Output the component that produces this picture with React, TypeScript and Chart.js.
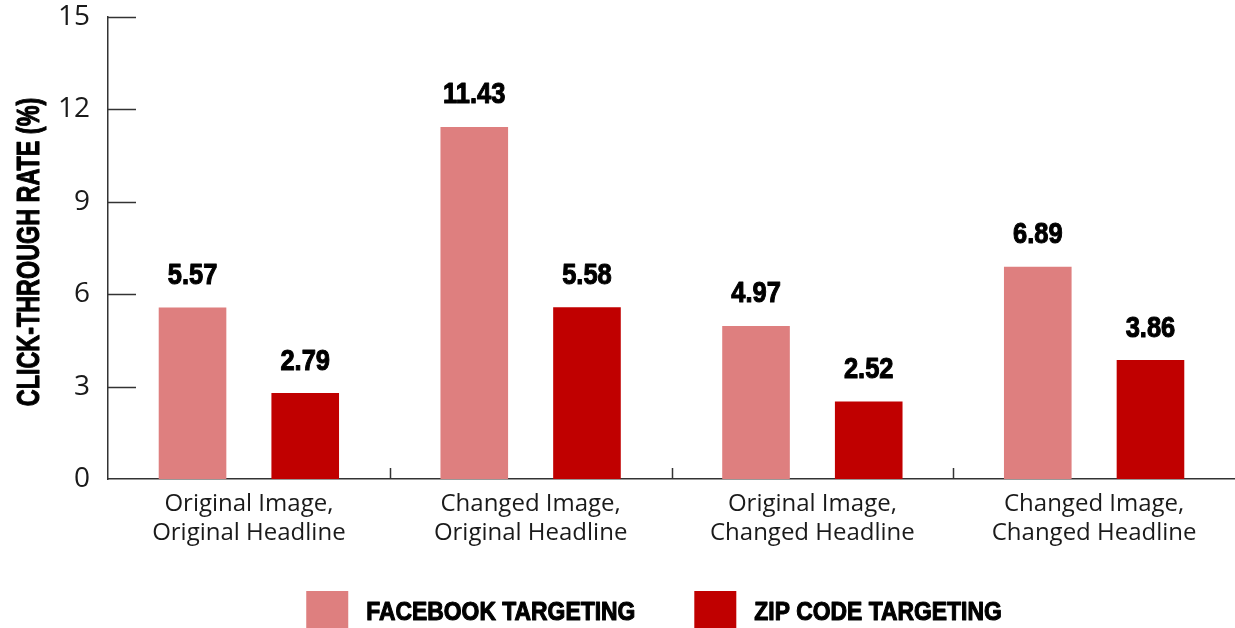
import React, { useEffect, useRef } from "react";
import { Chart, registerables } from "chart.js";

Chart.register(...registerables);

const categories: string[][] = [
  ["Original Image,", "Original Headline"],
  ["Changed Image,", "Original Headline"],
  ["Original Image,", "Changed Headline"],
  ["Changed Image,", "Changed Headline"],
];
const facebookTargeting = [5.57, 11.43, 4.97, 6.89];
const zipCodeTargeting = [2.79, 5.58, 2.52, 3.86];
const seriesNames = ["FACEBOOK TARGETING", "ZIP CODE TARGETING"];
const seriesColors = ["#DE7F7F", "#C00000"];
const yTickValues = [0, 3, 6, 9, 12, 15];
const yTitle = "CLICK-THROUGH RATE (%)";

const AXIS_COLOR = "#333333";
const CONDENSED = '"Liberation Sans", Arial, sans-serif';

function drawScaledText(
  ctx: CanvasRenderingContext2D,
  text: string,
  x: number,
  y: number,
  font: string,
  sx: number,
  align: CanvasTextAlign,
  rotate = 0
) {
  ctx.save();
  ctx.translate(x, y);
  if (rotate) ctx.rotate(rotate);
  ctx.scale(sx, 1);
  ctx.font = font;
  ctx.textAlign = align;
  ctx.textBaseline = "alphabetic";
  ctx.fillStyle = "#000000";
  ctx.strokeStyle = "#000000";
  ctx.lineWidth = 1.1;
  ctx.lineJoin = "round";
  ctx.fillText(text, 0, 0);
  ctx.strokeText(text, 0, 0);
  ctx.restore();
}

const customPlugin = {
  id: "customDecor",
  afterDraw(chart: any) {
    const ctx: CanvasRenderingContext2D = chart.ctx;
    const area = chart.chartArea;
    const xs = chart.scales.x;
    const ys = chart.scales.y;

    // inner y tick marks
    ctx.save();
    ctx.strokeStyle = AXIS_COLOR;
    ctx.lineWidth = 1.5;
    yTickValues.forEach((v) => {
      if (v === 0) return;
      const py = Math.round(ys.getPixelForValue(v)) + 0.5;
      ctx.beginPath();
      ctx.moveTo(area.left, py);
      ctx.lineTo(area.left + 28, py);
      ctx.stroke();
    });
    // x tick marks between categories
    for (let i = 0; i < categories.length - 1; i++) {
      const px = Math.round((xs.getPixelForValue(i) + xs.getPixelForValue(i + 1)) / 2) + 0.5;
      ctx.beginPath();
      ctx.moveTo(px, area.bottom);
      ctx.lineTo(px, area.bottom - 11);
      ctx.stroke();
    }
    ctx.restore();

    // data labels
    chart.data.datasets.forEach((ds: any, di: number) => {
      const meta = chart.getDatasetMeta(di);
      meta.data.forEach((el: any, i: number) => {
        const v = ds.data[i] as number;
        drawScaledText(ctx, v.toFixed(2), el.x, el.y - 23.5, `bold 30px ${CONDENSED}`, 0.85, "center");
      });
    });

    // y title
    const cy = (area.top + area.bottom) / 2 + 4;
    drawScaledText(ctx, yTitle, 39, cy, `bold 32px ${CONDENSED}`, 0.73, "center", -Math.PI / 2);

    // legend
    const boxW = 42;
    const boxH = 37;
    const gapBoxText = 18;
    const gapItems = 59;
    const legendFont = `bold 26px ${CONDENSED}`;
    const legendScale = 0.88;
    ctx.save();
    ctx.font = legendFont;
    const widths = seriesNames.map((n) => ctx.measureText(n).width * legendScale);
    ctx.restore();
    const total = widths.reduce((a, w) => a + boxW + gapBoxText + w, 0) + gapItems * (seriesNames.length - 1);
    let lx = 654 - total / 2;
    const boxTop = chart.height - boxH;
    seriesNames.forEach((name, i) => {
      ctx.save();
      ctx.fillStyle = seriesColors[i];
      ctx.fillRect(lx, boxTop, boxW, boxH);
      ctx.restore();
      drawScaledText(ctx, name, lx + boxW + gapBoxText, boxTop + 28.5, legendFont, legendScale, "left");
      lx += boxW + gapBoxText + widths[i] + gapItems;
    });
  },
};

export default function App() {
  const ref = useRef<HTMLCanvasElement>(null);
  useEffect(() => {
    document.body.style.margin = "0";
    if (!ref.current) return;
    const chart = new Chart(ref.current, {
      type: "bar",
      data: {
        labels: categories,
        datasets: [
          {
            label: seriesNames[0],
            data: facebookTargeting,
            backgroundColor: seriesColors[0],
            categoryPercentage: 0.8,
            barPercentage: 0.6,
          },
          {
            label: seriesNames[1],
            data: zipCodeTargeting,
            backgroundColor: seriesColors[1],
            categoryPercentage: 0.8,
            barPercentage: 0.6,
          },
        ],
      },
      options: {
        animation: false,
        responsive: false,
        layout: { padding: { top: 17, right: 0, bottom: 0, left: 0 } },
        plugins: {
          legend: { display: false },
          tooltip: { enabled: false },
          title: { display: false },
        },
        scales: {
          x: {
            grid: { display: false, drawTicks: false },
            border: { display: true, color: AXIS_COLOR, width: 1.5 },
            ticks: {
              color: "#1a1a1a",
              font: { family: '"Open Sans", sans-serif', size: 24, lineHeight: 1.2 },
              padding: 11,
              maxRotation: 0,
              autoSkip: false,
            },
            afterFit: (s: any) => {
              s.height = 149;
              s.paddingLeft = 0;
              s.paddingRight = 0;
            },
          },
          y: {
            min: 0,
            max: 15,
            afterBuildTicks: (s: any) => {
              s.ticks = yTickValues.map((v) => ({ value: v }));
            },
            grid: { display: false, drawTicks: false },
            border: { display: true, color: AXIS_COLOR, width: 1.5 },
            ticks: {
              color: "#1a1a1a",
              font: { family: '"Open Sans", sans-serif', size: 28 },
              padding: 18,
            },
            afterFit: (s: any) => {
              s.width = 108;
              s.paddingTop = 0;
              s.paddingBottom = 0;
            },
          },
        },
      },
      plugins: [customPlugin],
    });
    return () => chart.destroy();
  }, []);
  return (
    <div style={{ width: 1235, height: 628, overflow: "hidden" }}>
      <canvas ref={ref} width={1235} height={628} style={{ display: "block" }} />
    </div>
  );
}
